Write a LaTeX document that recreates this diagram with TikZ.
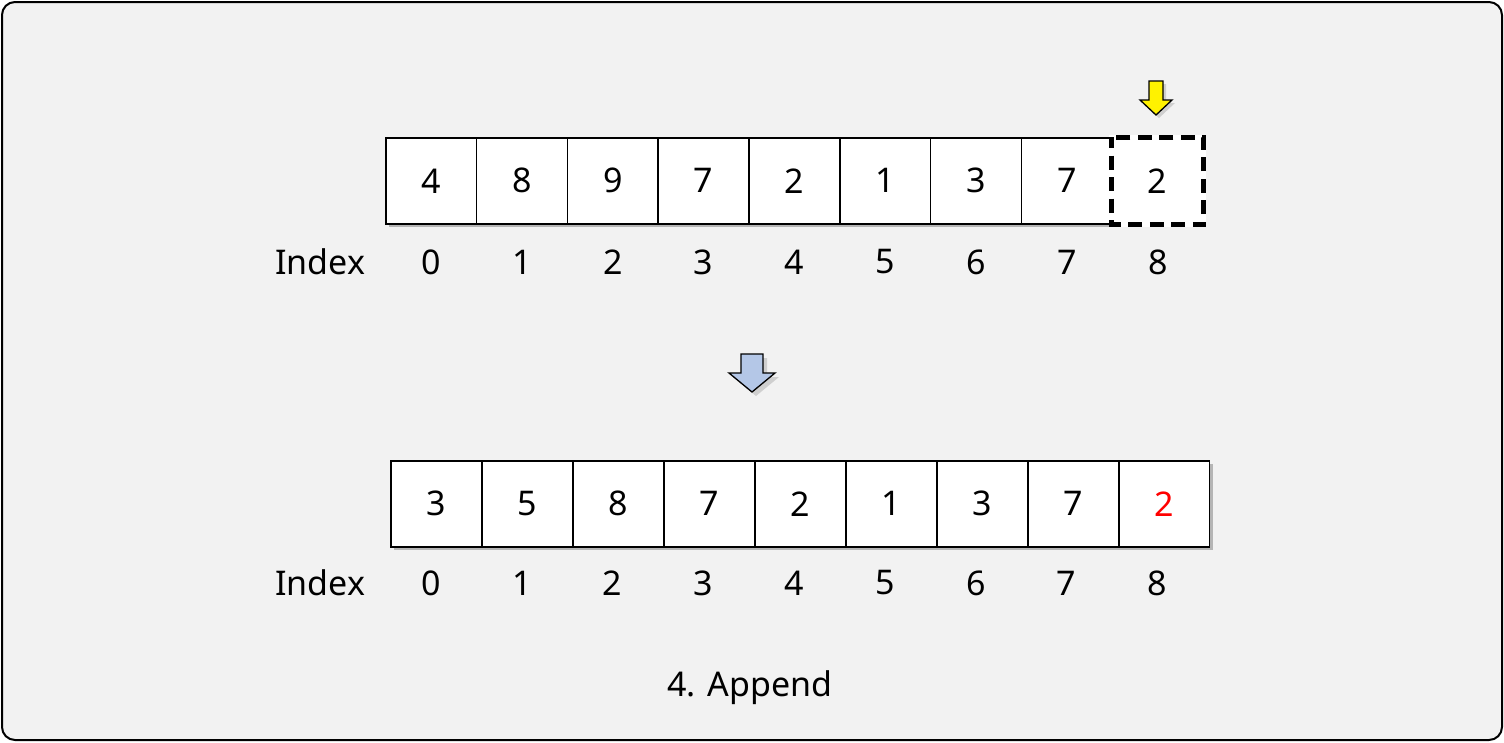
\documentclass[tikz,border=0pt]{standalone}
\usepackage{fontspec}
\setmainfont{Noto Sans}
\usetikzlibrary{shadows,calc}
\definecolor{bg}{HTML}{F2F2F2}
\definecolor{arrblue}{HTML}{B4C7E7}
\tikzset{
  cell/.style={draw=black, line width=1.6pt, fill=white, minimum width=90.8pt, minimum height=86pt, inner sep=0pt, anchor=north west, font=\fontsize{34}{40}\selectfont},
  idx/.style={font=\fontsize{34}{40}\selectfont, inner sep=0pt},
  shad/.style={drop shadow={shadow xshift=4pt, shadow yshift=-4pt, opacity=0.35, fill=black!70}},
}
\begin{document}
\begin{tikzpicture}[x=1pt,y=-1pt]
\useasboundingbox (0,0) rectangle (1504,742);
\draw[line width=2pt, fill=bg, rounded corners=13pt] (2,2) rectangle (1502,740);
% top row shadow
\fill[black, opacity=0.25] (389,141) rectangle (1206,227);
\foreach \v [count=\i from 0] in {4,8,9,7,2,1,3,7} {
  \node[cell] (t\i) at ({385+90.8*\i},137) {\v};
}
\node[cell, draw=none] (t8) at ({385+90.8*8},137) {2};
\draw[line width=5pt, white] (t8.north west) rectangle (t8.south east);
\draw[line width=5pt, black, dash pattern=on 14pt off 7.5pt, dash phase=3pt] (t8.north west) rectangle (t8.south east);
\node[idx] (ti) at (320,262) {Index};
\foreach \i in {0,...,8} {
  \node[idx] (tn\i) at ({431+90.9*\i},262) {\i};
}
% yellow arrow
\draw[fill=yellow, line width=1.3pt, line join=miter, drop shadow={shadow xshift=3pt, shadow yshift=-3pt, opacity=0.3}]
  (1149,81) -- (1163,81) -- (1163,100) -- (1172,100) -- (1156,115) -- (1140,100) -- (1149,100) -- cycle;
% blue arrow
\draw[fill=arrblue, line width=1.3pt, line join=miter, drop shadow={shadow xshift=4pt, shadow yshift=-4pt, opacity=0.3}]
  (741,354) -- (763,354) -- (763,373) -- (775,373) -- (752,392) -- (729,373) -- (741,373) -- cycle;
% bottom row
\fill[black, opacity=0.25] (394,464) rectangle (1213,550);
\foreach \v [count=\i from 0] in {3,5,8,7,2,1,3,7} {
  \node[cell] (b\i) at ({390+91*\i},460) {\v};
}
\node[cell, text=red] (b8) at ({390+91*8},460) {2};
\node[idx] (bi) at (320,583) {Index};
\foreach \i in {0,...,8} {
  \node[idx] (bn\i) at ({431+90.8*\i},583) {\i};
}
\node[idx] (cap) at (750,688) {4. Append};
\end{tikzpicture}
\end{document}
